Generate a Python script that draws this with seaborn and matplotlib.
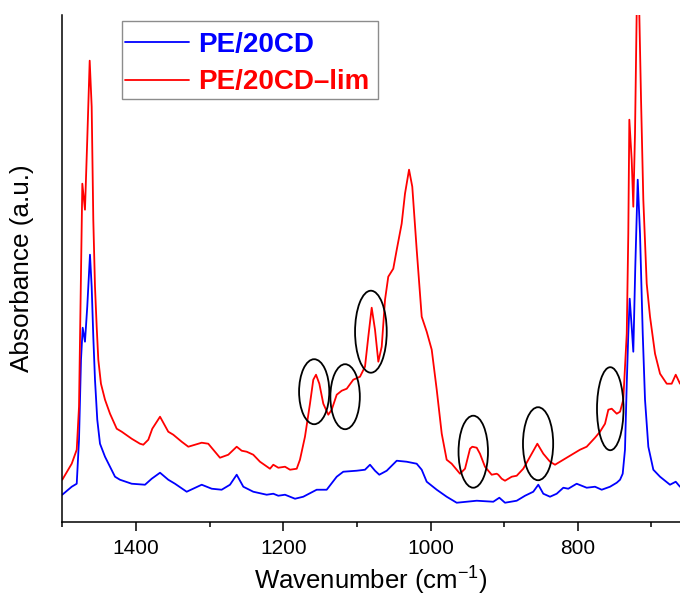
import matplotlib
matplotlib.use("Agg")
import matplotlib.pyplot as plt
from matplotlib.patches import Ellipse, Rectangle
import numpy as np
import pandas as pd
import seaborn as sns

# spectra (wavenumber in cm-1, absorbance in a.u.)
red_wn = [1500, 1487.2, 1480.4, 1477.3, 1474.6, 1472.8, 1469.2, 1466.1, 1462.8, 1460.1, 1457.9, 1455.6, 1453.3,
          1451.1, 1447.5, 1442.0, 1435.2,
          1426.1, 1419.3, 1405.8, 1394.5, 1390.0, 1383.2, 1377.8, 1367.3, 1356.1, 1349.3, 1337.9, 1328.9, 1319.8,
          1310.7, 1301.8, 1295.0, 1285.9, 1274.6, 1263.2, 1256.4, 1249.6,
          1240.7, 1231.6, 1218.0, 1213.5, 1206.7, 1197.6, 1190.8, 1181.7, 1177.3, 1170.5, 1163.7, 1159.2, 1155.5, 1151.0,
          1145.6, 1138.8, 1134.2, 1127.4,
          1120.6, 1113.8, 1104.9, 1095.8, 1089.0, 1084.5, 1079.9, 1075.4, 1070.9, 1066.3, 1061.8, 1057.4, 1050.6, 1045.9,
          1039.2, 1034.7, 1029.2, 1024.8, 1018.8, 1012.0, 1005.2, 998.4, 991.6, 984.8, 978.1,
          971.3, 960.0, 953.2, 946.4, 943.3, 937.3, 932.9, 926.1, 917.0, 910.2, 908.0, 903.4, 898.9, 889.8, 883.0, 874.1,
          865.0, 855.0, 846.9, 837.8, 831.0,
          821.9, 810.6, 797.1, 788.0, 776.7, 769.9, 763.1, 758.6, 754.0, 747.2, 742.7, 738.3, 733.6, 731.5, 730.1, 726.9,
          724.7, 722.4, 720.1, 718.4, 716.6, 714.2, 711.1, 706.5, 702.0, 695.2, 688.4, 679.3, 672.6, 667.1, 661.3]
red_abs = [0.42, 0.58, 0.72, 1.15, 2.49, 3.38, 3.12, 3.82, 4.61, 4.15, 3.02, 2.35, 1.95,
           1.62, 1.38, 1.22, 1.08,
           0.93, 0.90, 0.83, 0.78, 0.77, 0.82, 0.93, 1.05, 0.90, 0.87, 0.80, 0.75, 0.77,
           0.79, 0.78, 0.72, 0.64, 0.67, 0.75, 0.71, 0.70,
           0.67, 0.60, 0.53, 0.57, 0.54, 0.55, 0.52, 0.53, 0.62, 0.85, 1.18, 1.42, 1.47, 1.38,
           1.18, 1.07, 1.12, 1.27,
           1.31, 1.33, 1.42, 1.45, 1.55, 1.85, 2.14, 1.92, 1.60, 1.75, 2.22, 2.45, 2.53, 2.72,
           2.98, 3.28, 3.52, 3.35, 2.72, 2.05, 1.90, 1.72, 1.32, 0.88, 0.62,
           0.58, 0.48, 0.53, 0.73, 0.75, 0.74, 0.68, 0.55, 0.47, 0.48, 0.47, 0.43, 0.41, 0.45, 0.46, 0.53,
           0.65, 0.78, 0.68, 0.60, 0.57,
           0.61, 0.66, 0.72, 0.75, 0.84, 0.90, 0.98, 1.12, 1.13, 1.08, 1.10, 1.22, 1.88, 2.88, 4.02, 3.62,
           3.15, 3.88, 5.10, 6.00, 5.10, 4.22, 3.22, 2.38, 2.05, 1.68, 1.48, 1.38, 1.38, 1.47, 1.38]

blue_wn = [1500, 1487.2, 1480.4, 1477.3, 1474.6, 1472.3, 1469.2, 1466.1, 1462.4, 1460.1, 1457.9, 1455.6, 1452.5,
           1448.8, 1442.0, 1435.2, 1428.4, 1421.7, 1405.8, 1387.7,
           1378.6, 1367.3, 1356.1, 1347.0, 1331.1, 1310.7, 1297.1, 1283.6, 1272.3,
           1263.2, 1254.2, 1240.7,
           1222.5, 1213.5, 1206.7, 1197.6, 1184.0, 1172.8, 1154.6, 1141.0, 1127.4, 1118.5, 1100.3, 1089.0, 1082.2,
           1075.4, 1069.6, 1059.5, 1045.9, 1032.4, 1018.8, 1012.0, 1005.2, 991.6, 978.1,
           964.5, 950.9, 937.3, 914.8, 906.6, 898.9, 883.0, 871.7, 860.5, 853.7, 846.9, 837.8, 828.7, 819.7, 813.0,
           801.6, 788.0, 776.7, 767.6, 756.3, 747.2, 742.7,
           739.1, 736.0, 733.6, 731.5, 729.6, 726.9, 724.7, 722.0, 718.7, 715.6, 711.9, 708.8, 704.3, 697.5, 688.4,
           674.9, 667.1, 661.3]
blue_abs = [0.27, 0.35, 0.38, 0.82, 1.62, 1.94, 1.80, 2.15, 2.67, 2.35, 1.85, 1.42, 1.02,
            0.78, 0.65, 0.55, 0.45, 0.42, 0.38, 0.37,
            0.43, 0.49, 0.42, 0.38, 0.30, 0.37, 0.33, 0.32, 0.37,
            0.47, 0.35, 0.30,
            0.27, 0.28, 0.26, 0.27, 0.23, 0.25, 0.32, 0.32, 0.45, 0.50, 0.51, 0.52, 0.57,
            0.51, 0.47, 0.51, 0.61, 0.60, 0.58, 0.52, 0.40, 0.32, 0.25,
            0.19, 0.20, 0.21, 0.20, 0.24, 0.19, 0.21, 0.26, 0.30, 0.37, 0.28, 0.25, 0.28, 0.34, 0.33,
            0.38, 0.34, 0.35, 0.32, 0.35, 0.39, 0.42,
            0.48, 0.72, 1.38, 1.88, 2.23, 1.95, 1.70, 2.55, 3.42, 2.88, 1.88, 1.22, 0.75, 0.52, 0.45,
            0.37, 0.40, 0.35]

labels = ['PE/20CD', 'PE/20CD\u2013lim']
colors = ['blue', 'red']

# peaks circled in the figure: (wavenumber, absorbance)
circled_wn = [1158, 1116, 1081, 942, 854, 756]
circled_abs = [1.30, 1.25, 1.90, 0.70, 0.78, 1.13]

df = pd.concat([
    pd.DataFrame({'wn': blue_wn, 'abs': blue_abs, 'sample': labels[0]}),
    pd.DataFrame({'wn': red_wn, 'abs': red_abs, 'sample': labels[1]}),
])

sns.set_style('ticks')
plt.rcParams['font.family'] = ['Liberation Sans', 'DejaVu Sans']
plt.rcParams['mathtext.fontset'] = 'custom'
plt.rcParams['mathtext.rm'] = 'Liberation Sans'
plt.rcParams['mathtext.it'] = 'Liberation Sans'
plt.rcParams['text.color'] = 'black'
plt.rcParams['axes.labelcolor'] = 'black'
plt.rcParams['xtick.color'] = 'black'

fig = plt.figure(figsize=(6.8, 5.99), dpi=100)
ax = fig.add_axes([0.0916, 0.129, 0.9084, 0.846])

sns.lineplot(data=df, x='wn', y='abs', hue='sample', hue_order=labels,
             palette=dict(zip(labels, colors)), estimator=None, sort=False,
             lw=1.3, ax=ax)

# ellipses round the new bands
ell_w = [41, 40, 43, 40, 41, 36]
ell_h = [0.65, 0.65, 0.82, 0.72, 0.73, 0.83]
for x, y, w, h in zip(circled_wn, circled_abs, ell_w, ell_h):
    ax.add_patch(Ellipse((x, y), w, h, fill=False, ec='black', lw=1.3, zorder=5))

ax.set_xlim(1500, 661.3)
ax.set_ylim(0, 5.067)
ax.set_xticks([1400, 1200, 1000, 800])
ax.set_xticks([1500, 1300, 1100, 900, 700], minor=True)
ax.set_yticks([])
ax.tick_params(axis='x', which='major', direction='out', length=6.5, width=1.1,
               labelsize=15, pad=6, colors='black')
ax.tick_params(axis='x', which='minor', direction='out', length=3.3, width=1.1)
for s in ['top', 'right']:
    ax.spines[s].set_visible(False)
for s in ['left', 'bottom']:
    ax.spines[s].set_linewidth(1.1)
    ax.spines[s].set_color('black')

ax.set_xlabel('Wavenumber (cm$^{\u22121}$)', fontsize=18.5, labelpad=5)
ax.set_ylabel('Absorbance (a.u.)', fontsize=18.8)
ax.yaxis.set_label_coords(-0.045, 0.5)

# legend: box drawn separately so its padding matches the original
handles, labs = ax.get_legend_handles_labels()
leg = ax.legend(handles, labs, loc='center left',
                bbox_to_anchor=(125 / 680, 1 - 63.5 / 599), bbox_transform=fig.transFigure,
                prop={'size': 20, 'weight': 'bold'}, frameon=False, borderpad=0, borderaxespad=0,
                handlelength=2.3, handletextpad=0.35, labelspacing=0.43)
for t, c in zip(leg.get_texts(), colors):
    t.set_color(c)
fig.patches.append(Rectangle((122.3 / 680, 1 - 99.3 / 599), 255.4 / 680, 78.3 / 599,
                             transform=fig.transFigure, fill=False, ec='#8c8c8c', lw=1.0))

fig.savefig('out.png', dpi=100)
